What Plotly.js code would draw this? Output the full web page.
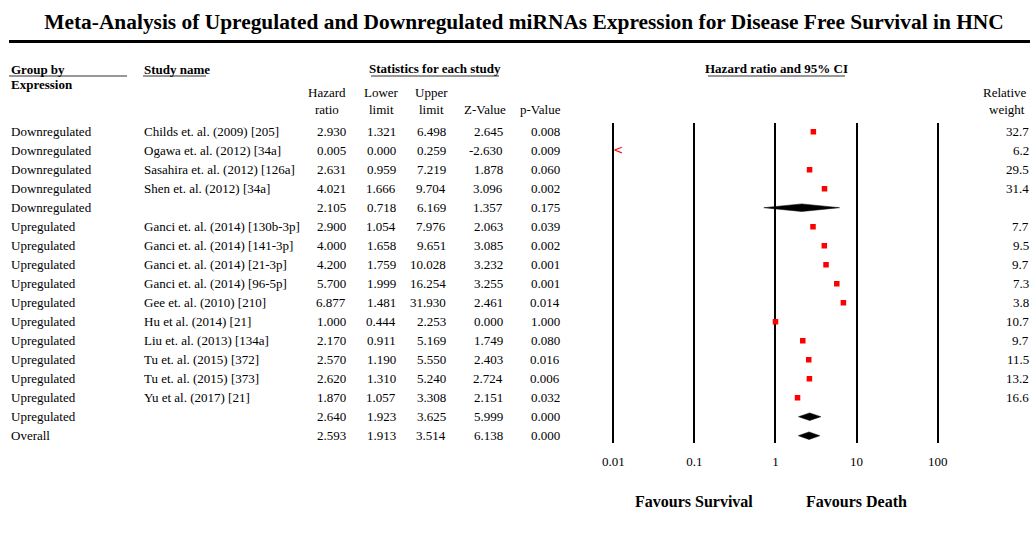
<!DOCTYPE html>
<html>
<head>
<meta charset="utf-8">
<script src="https://cdn.plot.ly/plotly-3.0.1.min.js"></script>
<style>html,body{margin:0;padding:0;background:#fff;overflow:hidden}#chart{width:1030px;height:536px}</style>
</head>
<body>
<div id="chart"></div>
<script>
// ---- data ----
const groups = ['Downregulated','Downregulated','Downregulated','Downregulated','Downregulated',
  'Upregulated','Upregulated','Upregulated','Upregulated','Upregulated','Upregulated','Upregulated',
  'Upregulated','Upregulated','Upregulated','Upregulated','Overall'];
const studies = ['Childs et. al. (2009) [205]','Ogawa et. al. (2012) [34a]','Sasahira et. al. (2012) [126a]',
  'Shen et. al. (2012) [34a]','','Ganci et. al. (2014) [130b-3p]','Ganci et. al. (2014) [141-3p]',
  'Ganci et. al. (2014) [21-3p]','Ganci et. al. (2014) [96-5p]','Gee et. al. (2010) [210]',
  'Hu et al. (2014) [21]','Liu et. al. (2013) [134a]','Tu et. al. (2015) [372]','Tu et. al. (2015) [373]',
  'Yu et al. (2017) [21]','',''];
const hazardRatio = [2.930,0.005,2.631,4.021,2.105,2.900,4.000,4.200,5.700,6.877,1.000,2.170,2.570,2.620,1.870,2.640,2.593];
const lowerLimit  = [1.321,0.000,0.959,1.666,0.718,1.054,1.658,1.759,1.999,1.481,0.444,0.911,1.190,1.310,1.057,1.923,1.913];
const upperLimit  = [6.498,0.259,7.219,9.704,6.169,7.976,9.651,10.028,16.254,31.930,2.253,5.169,5.550,5.240,3.308,3.625,3.514];
const zValue      = [2.645,-2.630,1.878,3.096,1.357,2.063,3.085,3.232,3.255,2.461,0.000,1.749,2.403,2.724,2.151,5.999,6.138];
const pValue      = [0.008,0.009,0.060,0.002,0.175,0.039,0.002,0.001,0.001,0.014,1.000,0.080,0.016,0.006,0.032,0.000,0.000];
const relWeight   = ['32.7','6.2','29.5','31.4','','7.7','9.5','9.7','7.3','3.8','10.7','9.7','11.5','13.2','16.6','',''];
const isSummary   = [false,false,false,false,true,false,false,false,false,false,false,false,false,false,false,true,true];
const tickValues  = [0.01,0.1,1,10,100];
const tickLabels  = ['0.01','0.1','1','10','100'];

// ---- helpers ----
const W = 1030, H = 536;
const FONT = '"Liberation Serif","Times New Roman",Times,serif';
const px = v => v / W;
const py = v => 1 - v / H;
const rows = hazardRatio.map((_, i) => i + 1);
const axisMin = 0.01;

const traces = [];
// study squares
const sq = rows.map((r, i) => (!isSummary[i] && hazardRatio[i] >= axisMin) ? i : -1).filter(i => i >= 0);
traces.push({
  type: 'scatter', mode: 'markers',
  x: sq.map(i => hazardRatio[i]), y: sq.map(i => rows[i]),
  marker: {symbol: 'square', size: 5.5, color: '#ff0000', line: {width: 0}},
  hoverinfo: 'skip'
});
// off-scale arrows
const off = rows.map((r, i) => (!isSummary[i] && hazardRatio[i] < axisMin) ? i : -1).filter(i => i >= 0);
traces.push({
  type: 'scatter', mode: 'text',
  x: off.map(() => axisMin), y: off.map(i => rows[i]),
  text: off.map(() => '<'), textposition: 'middle right',
  textfont: {family: 'DejaVu Sans', size: 12, color: '#ff0000'},
  cliponaxis: false, hoverinfo: 'skip'
});
// summary diamonds
rows.forEach((r, i) => {
  if (!isSummary[i]) return;
  const h = 0.2;
  traces.push({
    type: 'scatter', mode: 'lines',
    x: [lowerLimit[i], hazardRatio[i], upperLimit[i], hazardRatio[i], lowerLimit[i]],
    y: [r, r - h, r, r + h, r],
    fill: 'toself', fillcolor: '#000', line: {color: '#000', width: 0.5},
    hoverinfo: 'skip'
  });
});

// ---- annotations (table text) ----
const ann = [];
const txt = (x, y, text, opt = {}) => ann.push(Object.assign({
  xref: 'paper', yref: 'paper', x: px(x), y: py(y), text: text, showarrow: false,
  xanchor: 'left', yanchor: 'middle', font: {family: FONT, size: 13, color: '#000'}
}, opt));
const rowTxt = (x, r, text, anchor) => ann.push({
  xref: 'paper', yref: 'y', x: px(x), y: r, text: text, showarrow: false,
  xanchor: anchor, yanchor: 'middle', font: {family: FONT, size: 13, color: '#000'}
});

rows.forEach((r, i) => {
  rowTxt(9, r, groups[i], 'left');
  if (studies[i]) rowTxt(142, r, studies[i], 'left');
  rowTxt(348, r, hazardRatio[i].toFixed(3), 'right');
  rowTxt(398, r, lowerLimit[i].toFixed(3), 'right');
  rowTxt(448, r, upperLimit[i].toFixed(3), 'right');
  rowTxt(505, r, zValue[i].toFixed(3), 'right');
  rowTxt(562, r, pValue[i].toFixed(3), 'right');
  if (relWeight[i]) rowTxt(1031, r, relWeight[i], 'right');
});

// headers
const bold = {family: FONT, size: 13, color: '#000'};
txt(9, 69, '<b>Group by</b>', {font: bold});
txt(9, 84, '<b>Expression</b>', {font: bold});
txt(142, 69, '<b>Study name</b>', {font: bold});
txt(435, 68.5, '<b>Statistics for each study</b>', {font: bold, xanchor: 'center'});
txt(776, 68.5, '<b>Hazard ratio and 95% CI</b>', {font: bold, xanchor: 'center'});
[['Hazard','ratio',327],['Lower','limit',381],['Upper','limit',431],['','Z-Value',485],['','p-Value',540]]
  .forEach(h => {
    if (h[0]) txt(h[2], 93, h[0], {xanchor: 'center'});
    txt(h[2], 109, h[1], {xanchor: 'center'});
  });
txt(1029, 93, 'Relative', {xanchor: 'right'});
txt(1027, 109, 'weight', {xanchor: 'right'});

// favours labels under the axis
ann.push({xref: 'x', yref: 'paper', x: -1, y: py(501), text: '<b>Favours Survival</b>', showarrow: false,
  xanchor: 'center', yanchor: 'middle', font: {family: FONT, size: 16, color: '#000'}});
ann.push({xref: 'x', yref: 'paper', x: 1, y: py(501), text: '<b>Favours Death</b>', showarrow: false,
  xanchor: 'center', yanchor: 'middle', font: {family: FONT, size: 16, color: '#000'}});

// decorative rules
const shapes = [
  {type: 'line', xref: 'paper', yref: 'paper', x0: px(9), x1: px(1030), y0: py(41.5), y1: py(41.5), line: {color: '#000', width: 3}},
  {type: 'line', xref: 'paper', yref: 'paper', x0: px(9), x1: px(127), y0: py(76), y1: py(76), line: {color: '#333', width: 1.2}},
  {type: 'line', xref: 'paper', yref: 'paper', x0: px(143), x1: px(206), y0: py(76), y1: py(76), line: {color: '#333', width: 1.2}},
  {type: 'line', xref: 'paper', yref: 'paper', x0: px(371), x1: px(499), y0: py(76), y1: py(76), line: {color: '#333', width: 1.2}},
  {type: 'line', xref: 'paper', yref: 'paper', x0: px(708), x1: px(845), y0: py(76), y1: py(76), line: {color: '#333', width: 1.2}}
];

const layout = {
  width: W, height: H,
  margin: {l: 0, r: 0, t: 0, b: 0, pad: 0},
  paper_bgcolor: '#fff', plot_bgcolor: '#fff',
  showlegend: false,
  title: {
    text: '<b>Meta-Analysis of Upregulated and Downregulated miRNAs Expression for Disease Free Survival in HNC</b>',
    x: px(524), xanchor: 'center', xref: 'paper', y: py(22), yref: 'paper', yanchor: 'middle',
    font: {family: FONT, size: 21.4, color: '#000'}
  },
  xaxis: {
    type: 'log', range: [-2.02, 2.02], domain: [611.68 / W, 939.3 / W],
    tickvals: tickValues, ticktext: tickLabels, ticks: '',
    showgrid: true, gridcolor: '#000', gridwidth: 2,
    zeroline: false, showline: false, ticklabelstandoff: 9,
    tickfont: {family: FONT, size: 13, color: '#000'}, fixedrange: true
  },
  yaxis: {
    range: [17.384, 0.542], domain: [1 - 443 / H, 1 - 123 / H],
    visible: false, showgrid: false, zeroline: false, fixedrange: true
  },
  annotations: ann,
  shapes: shapes
};

Plotly.newPlot('chart', traces, layout, {displayModeBar: false, staticPlot: true});
</script>
</body>
</html>
